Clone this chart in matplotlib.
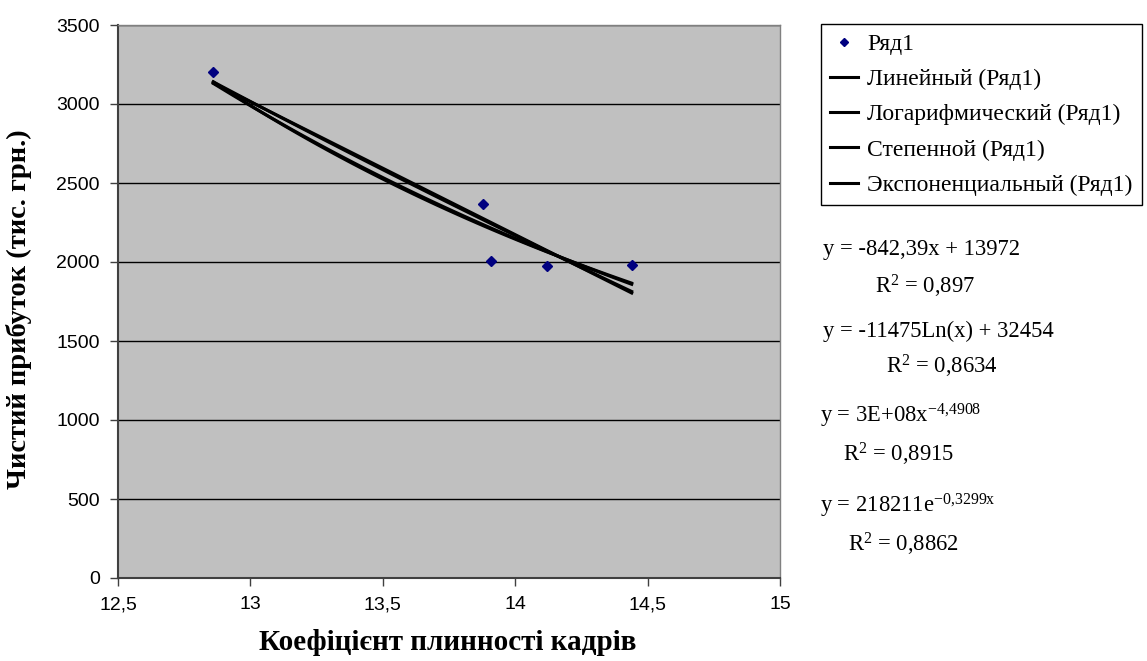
import numpy as np
import matplotlib
matplotlib.use("Agg")
import matplotlib.pyplot as plt

# данные
x_vals = [12.86, 13.88, 13.91, 14.12, 14.44]
y_vals = [3200, 2367, 2006, 1975, 1983]
series_name = "Ряд1"
trend_names = ["Линейный (Ряд1)", "Логарифмический (Ряд1)",
               "Степенной (Ряд1)", "Экспоненциальный (Ряд1)"]
equations = ["y = -842,39x + 13972", "y = -11475Ln(x) + 32454",
             "y = 3E+08x$^{-4{,}4908}$", "y = 218211e$^{-0{,}3299x}$"]
r2_labels = ["R$^2$ = 0,897", "R$^2$ = 0,8634", "R$^2$ = 0,8915", "R$^2$ = 0,8862"]

plt.rcParams['mathtext.default'] = 'regular'
serif = ['Liberation Serif', 'DejaVu Serif']
sans = ['Liberation Sans', 'DejaVu Sans']

W, H = 1147, 661
fig = plt.figure(figsize=(W / 100, H / 100), dpi=100)
ax = fig.add_axes([118 / W, 1 - 578 / H, (780 - 118) / W, (578 - 25) / H])
ax.set_facecolor('#c0c0c0')

x = np.array(x_vals)
y = np.array(y_vals)
xs = np.linspace(x.min(), x.max(), 100)

# линии тренда, подобранные по точкам
a, b = np.polyfit(x, y, 1)
lin = a * xs + b
a, b = np.polyfit(np.log(x), y, 1)
logf = a * np.log(xs) + b
a, b = np.polyfit(np.log(x), np.log(y), 1)
powf = np.exp(b) * xs ** a
a, b = np.polyfit(x, np.log(y), 1)
expf = np.exp(b) * np.exp(a * xs)

ax.yaxis.grid(True, color='black', lw=1)
ax.set_axisbelow(True)

pts, = ax.plot(x, y, 'D', color='#000080', markersize=5.5, zorder=5, label=series_name)
handles = [pts]
for curve, name in zip([lin, logf, powf, expf], trend_names):
    h, = ax.plot(xs, curve, color='black', lw=2.2, label=name, zorder=4)
    handles.append(h)

ax.set_xlim(12.5, 15)
ax.set_ylim(0, 3500)
ax.set_xticks([12.5, 13, 13.5, 14, 14.5, 15])
ax.set_xticklabels(['12,5', '13', '13,5', '14', '14,5', '15'])
ax.set_yticks(range(0, 3501, 500))
ax.set_yticklabels([str(v) for v in range(0, 3501, 500)])
for lab in ax.get_xticklabels() + ax.get_yticklabels():
    lab.set_family(sans)
    lab.set_fontsize(14)
ax.tick_params(direction='out', length=6, width=1, color='#404040', pad=7)

for side in ['left', 'bottom']:
    ax.spines[side].set_color('#404040')
    ax.spines[side].set_linewidth(1.5)
for side in ['top', 'right']:
    ax.spines[side].set_color('#808080')
    ax.spines[side].set_linewidth(1)

fig.text(448 / W, 1 - 643 / H, 'Коефіцієнт плинності кадрів', family=serif,
         fontsize=21, fontweight='bold', ha='center', va='center')
fig.text(19 / W, 1 - 309 / H, 'Чистий прибуток (тис. грн.)', family=serif,
         fontsize=20.5, fontweight='bold', ha='center', va='center', rotation=90)

leg = fig.legend(handles=handles, loc='upper left',
                 bbox_to_anchor=(821 / W, 1 - 24 / H), borderaxespad=0,
                 prop={'family': serif, 'size': 17}, fancybox=False,
                 edgecolor='black', framealpha=1, handlelength=1.15,
                 handletextpad=0.4, labelspacing=0.58, borderpad=0.4,
                 markerscale=0.8)
leg.get_frame().set_linewidth(1)

# подписи уравнений трендов (базовые линии)
eq_pos = [(823, 255), (823, 337), (820, 422), (820, 513)]
r2_pos = [(875, 293), (886, 374), (843, 461), (848, 551)]
for (px, py), t in zip(eq_pos, equations):
    fig.text(px / W, 1 - py / H, t, family=serif, fontsize=16.3, va='baseline')
for (px, py), t in zip(r2_pos, r2_labels):
    fig.text(px / W, 1 - py / H, t, family=serif, fontsize=16.3, va='baseline')

fig.savefig('out.png', dpi=100)
